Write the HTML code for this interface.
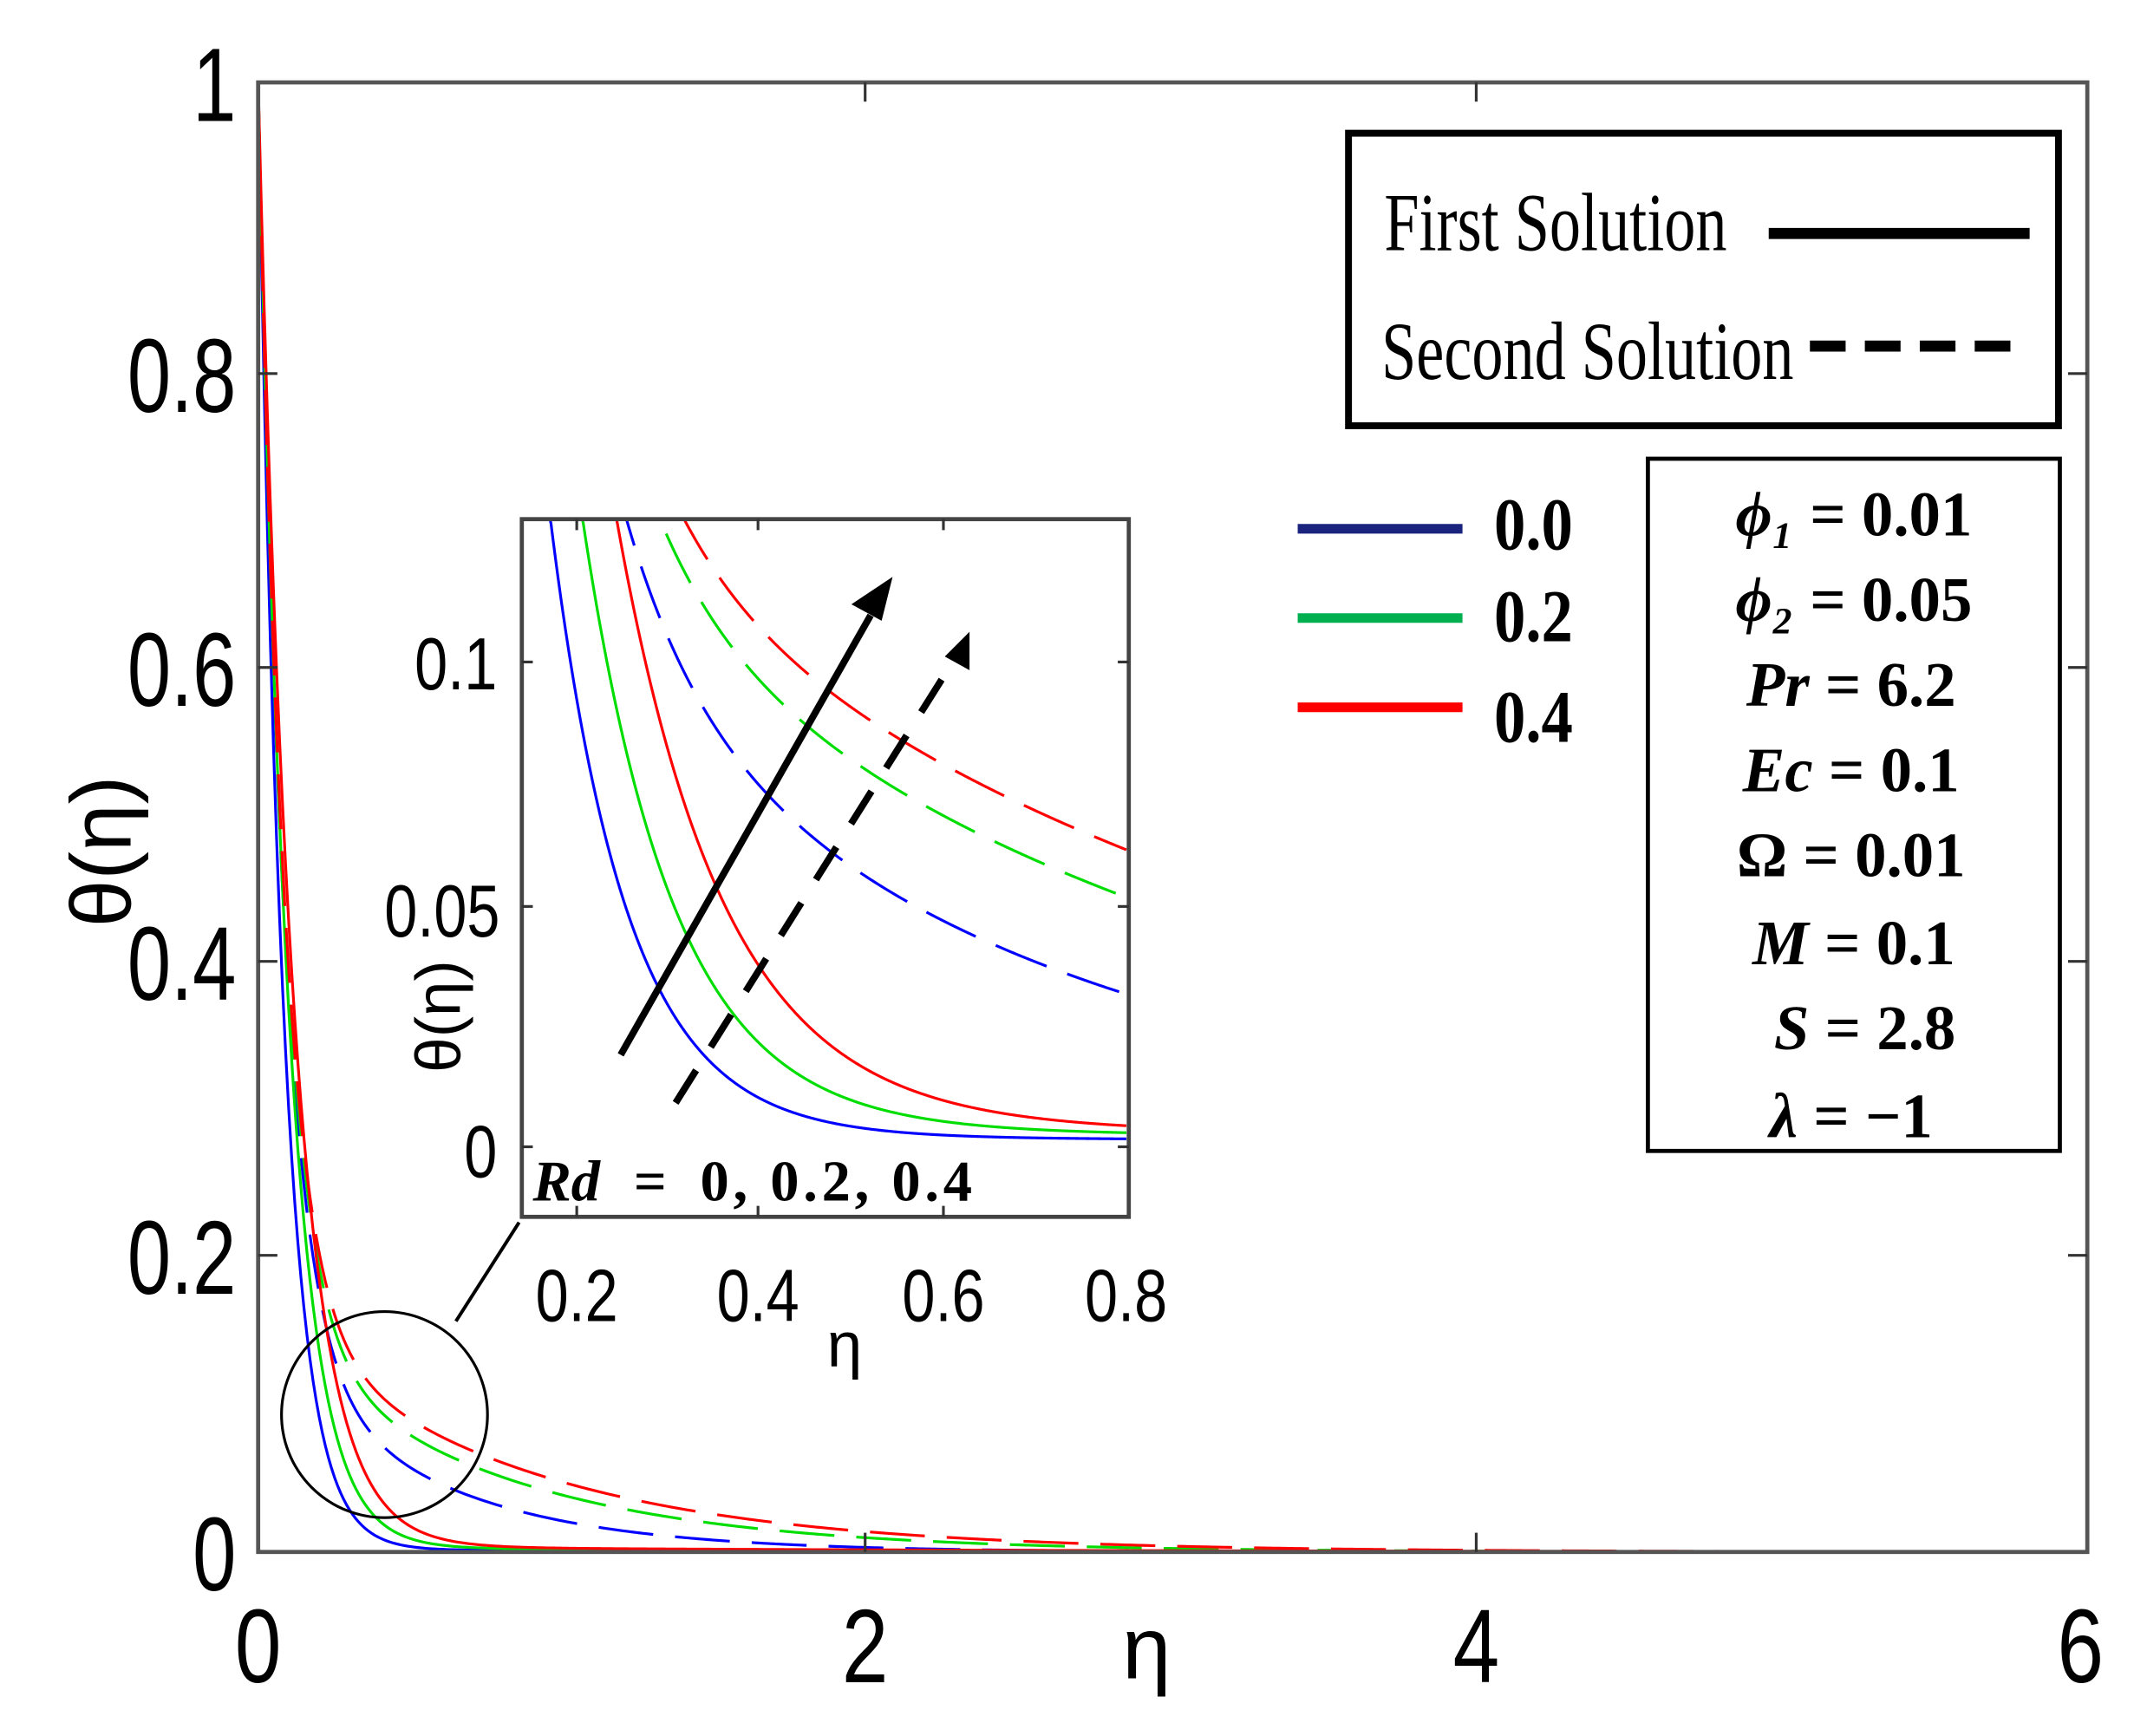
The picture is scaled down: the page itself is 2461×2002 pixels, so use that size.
<!DOCTYPE html>
<html><head><meta charset="utf-8"><style>
html,body{margin:0;padding:0;background:#fff;}
svg{display:block;}
</style></head><body>
<svg id="s" width="2461" height="2002" viewBox="0 0 1554 1264" preserveAspectRatio="none" xmlns="http://www.w3.org/2000/svg">
<rect width="1554" height="1264" fill="#fff"/>
<g id="main"></g>
<rect x="188" y="60" width="1332" height="1070" fill="none" stroke="#555" stroke-width="3"/>
<g stroke="#333" stroke-width="2">
<line x1="630" y1="1130" x2="630" y2="1116"/><line x1="1075" y1="1130" x2="1075" y2="1116"/>
<line x1="630" y1="60" x2="630" y2="74"/><line x1="1075" y1="60" x2="1075" y2="74"/>
<line x1="188" y1="272" x2="202" y2="272"/><line x1="188" y1="486" x2="202" y2="486"/><line x1="188" y1="700" x2="202" y2="700"/><line x1="188" y1="914" x2="202" y2="914"/>
<line x1="1520" y1="272" x2="1506" y2="272"/><line x1="1520" y1="486" x2="1506" y2="486"/><line x1="1520" y1="700" x2="1506" y2="700"/><line x1="1520" y1="914" x2="1506" y2="914"/>
</g>
<g font-family="Liberation Sans, sans-serif" font-size="76" fill="#000" text-anchor="end">
<text x="172" y="88" transform="translate(172 0) scale(0.75 1) translate(-172 0)">1</text>
<text x="172" y="300" transform="translate(172 0) scale(0.75 1) translate(-172 0)">0.8</text>
<text x="172" y="514" transform="translate(172 0) scale(0.75 1) translate(-172 0)">0.6</text>
<text x="172" y="728" transform="translate(172 0) scale(0.75 1) translate(-172 0)">0.4</text>
<text x="172" y="942" transform="translate(172 0) scale(0.75 1) translate(-172 0)">0.2</text>
<text x="172" y="1158" transform="translate(172 0) scale(0.75 1) translate(-172 0)">0</text>
</g>
<g font-family="Liberation Sans, sans-serif" font-size="76" fill="#000" text-anchor="middle">
<text x="188" y="1225" transform="translate(188 0) scale(0.8 1) translate(-188 0)">0</text>
<text x="630" y="1225" transform="translate(630 0) scale(0.8 1) translate(-630 0)">2</text>
<text x="1075" y="1225" transform="translate(1075 0) scale(0.8 1) translate(-1075 0)">4</text>
<text x="1515" y="1225" transform="translate(1515 0) scale(0.8 1) translate(-1515 0)">6</text>
<text x="835" y="1222" font-size="64">η</text>
</g>
<text transform="translate(95 620) rotate(-90)" font-family="Liberation Sans, sans-serif" font-size="62" text-anchor="middle">θ(η)</text>

<circle cx="280" cy="1030" r="75" fill="none" stroke="#000" stroke-width="2"/>
<line x1="332" y1="962" x2="378" y2="890" stroke="#000" stroke-width="2.5"/>

<rect x="380" y="378" width="442" height="508" fill="#fff"/>
<g id="inset"></g>
<rect x="380" y="378" width="442" height="508" fill="none" stroke="#444" stroke-width="3"/>
<g stroke="#333" stroke-width="2">
<line x1="420" y1="886" x2="420" y2="878"/><line x1="552" y1="886" x2="552" y2="878"/><line x1="687" y1="886" x2="687" y2="878"/>
<line x1="420" y1="378" x2="420" y2="386"/><line x1="552" y1="378" x2="552" y2="386"/><line x1="687" y1="378" x2="687" y2="386"/>
<line x1="380" y1="482" x2="388" y2="482"/><line x1="380" y1="660" x2="388" y2="660"/><line x1="380" y1="835" x2="388" y2="835"/>
<line x1="822" y1="482" x2="814" y2="482"/><line x1="822" y1="660" x2="814" y2="660"/><line x1="822" y1="835" x2="814" y2="835"/>
</g>
<g font-family="Liberation Sans, sans-serif" font-size="54" fill="#000">
<text x="362" y="502" text-anchor="end" transform="translate(362 0) scale(0.8 1) translate(-362 0)">0.1</text>
<text x="364" y="682" text-anchor="end" transform="translate(364 0) scale(0.8 1) translate(-364 0)">0.05</text>
<text x="362" y="857" text-anchor="end" transform="translate(362 0) scale(0.8 1) translate(-362 0)">0</text>
<text x="420" y="962" text-anchor="middle" transform="translate(420 0) scale(0.8 1) translate(-420 0)">0.2</text>
<text x="552" y="962" text-anchor="middle" transform="translate(552 0) scale(0.8 1) translate(-552 0)">0.4</text>
<text x="687" y="962" text-anchor="middle" transform="translate(687 0) scale(0.8 1) translate(-687 0)">0.6</text>
<text x="820" y="962" text-anchor="middle" transform="translate(820 0) scale(0.8 1) translate(-820 0)">0.8</text>
<text x="615" y="995" text-anchor="middle" font-size="46">η</text>
</g>
<text transform="translate(335 740) rotate(-90)" font-family="Liberation Sans, sans-serif" font-size="46" text-anchor="middle">θ(η)</text>
<text x="388" y="874" font-family="Liberation Serif, serif" font-size="42" font-weight="bold"><tspan font-style="italic">Rd</tspan> <tspan dx="14">=</tspan> <tspan dx="14" letter-spacing="3">0, 0.2, 0.4</tspan></text>
<line x1="452" y1="768" x2="634" y2="448" stroke="#000" stroke-width="5"/>
<polygon points="650,420 620,440 642,452" fill="#000"/>
<line x1="492" y1="803" x2="690" y2="488" stroke="#000" stroke-width="5" stroke-dasharray="28,20"/>
<polygon points="706,460 688,478 706,488" fill="#000"/>

<rect x="982" y="97" width="517" height="213" fill="#fff" stroke="#000" stroke-width="5"/>
<text x="1008" y="182" font-family="Liberation Serif, serif" font-size="60" transform="translate(1008 0) scale(0.76 1) translate(-1008 0)">First Solution</text>
<line x1="1288" y1="170" x2="1478" y2="170" stroke="#000" stroke-width="8"/>
<text x="1006" y="276" font-family="Liberation Serif, serif" font-size="60" transform="translate(1006 0) scale(0.76 1) translate(-1006 0)">Second Solution</text>
<line x1="1318" y1="252" x2="1475" y2="252" stroke="#000" stroke-width="8" stroke-dasharray="26,14"/>

<line x1="945" y1="385" x2="1065" y2="385" stroke="#1a237e" stroke-width="7"/>
<line x1="945" y1="450" x2="1065" y2="450" stroke="#00b050" stroke-width="7"/>
<line x1="945" y1="515" x2="1065" y2="515" stroke="#ff0000" stroke-width="7"/>
<g font-family="Liberation Serif, serif" font-size="54" font-weight="bold">
<text x="1088" y="400" transform="translate(1088 0) scale(0.85 1) translate(-1088 0)">0.0</text>
<text x="1088" y="467" transform="translate(1088 0) scale(0.85 1) translate(-1088 0)">0.2</text>
<text x="1088" y="540" transform="translate(1088 0) scale(0.85 1) translate(-1088 0)">0.4</text>
</g>

<rect x="1200" y="334" width="300" height="504" fill="#fff" stroke="#000" stroke-width="3"/>
<g font-family="Liberation Serif, serif" font-size="46" font-weight="bold" text-anchor="middle" xml:space="preserve">
<text x="1350" y="390"><tspan font-style="italic">ϕ₁</tspan>  =  0.01</text>
<text x="1350" y="452"><tspan font-style="italic">ϕ₂</tspan>  =  0.05</text>
<text x="1348" y="514"><tspan font-style="italic">Pr</tspan>   =  6.2</text>
<text x="1348" y="576"><tspan font-style="italic">Ec</tspan>  =  0.1</text>
<text x="1348" y="638">Ω  =  0.01</text>
<text x="1350" y="702"><tspan font-style="italic">M</tspan> = 0.1</text>
<text x="1358" y="764"><tspan font-style="italic">S</tspan>  =  2.8</text>
<text x="1348" y="828"><tspan font-style="italic">λ</tspan>  =  −1</text>
</g>
</svg>
<script>
(function(){
var NS="http://www.w3.org/2000/svg";
var cols=["#0000ff","#00dd00","#ff0000"];
var aS=[12,10,8.5], fl=[0.0015,0.003,0.004];
var A=[0.145,0.155,0.164], B=[1.93,1.39,1.24];
function f1(i,e){return (1-fl[i])*Math.exp(-aS[i]*e)+fl[i]*Math.exp(-0.5*e);}
function f2(i,e){return A[i]*Math.exp(-B[i]*e)+(1-A[i])*Math.exp(-12*e);}
function path(g,fn,mx,my,e0,e1,clip,dash,col){
  var d="",n=600;
  for(var k=0;k<=n;k++){var e=e0+(e1-e0)*k/n;var x=mx(e),y=my(fn(e));
    if(clip){y=Math.max(y,clip);} d+=(k?"L":"M")+x.toFixed(2)+" "+y.toFixed(2);}
  var p=document.createElementNS(NS,"path");p.setAttribute("d",d);p.setAttribute("fill","none");
  p.setAttribute("stroke",col);p.setAttribute("stroke-width","2");
  if(dash)p.setAttribute("stroke-dasharray",dash);g.appendChild(p);
}
var gm=document.getElementById("main");
var mx=function(e){return 188+e*222;}, my=function(t){return 1130-t*1070;};
for(var i=0;i<3;i++){
  path(gm,function(e){return f1(i,e);},mx,my,0,6,null,null,cols[i]);
  path(gm,function(e){return f2(i,e);},mx,my,0,6,null,"40,16",cols[i]);
}
var gi=document.getElementById("inset");
var ix=function(e){return 380+(e-0.14)*667;}, iy=function(t){return 833-t*3520;};
for(var i=0;i<3;i++){
  path(gi,function(e){return f1(i,e);},ix,iy,0.14,0.8,378,null,cols[i]);
  path(gi,function(e){return f2(i,e);},ix,iy,0.14,0.8,378,"40,16",cols[i]);
}
})();
</script>
</body></html>
